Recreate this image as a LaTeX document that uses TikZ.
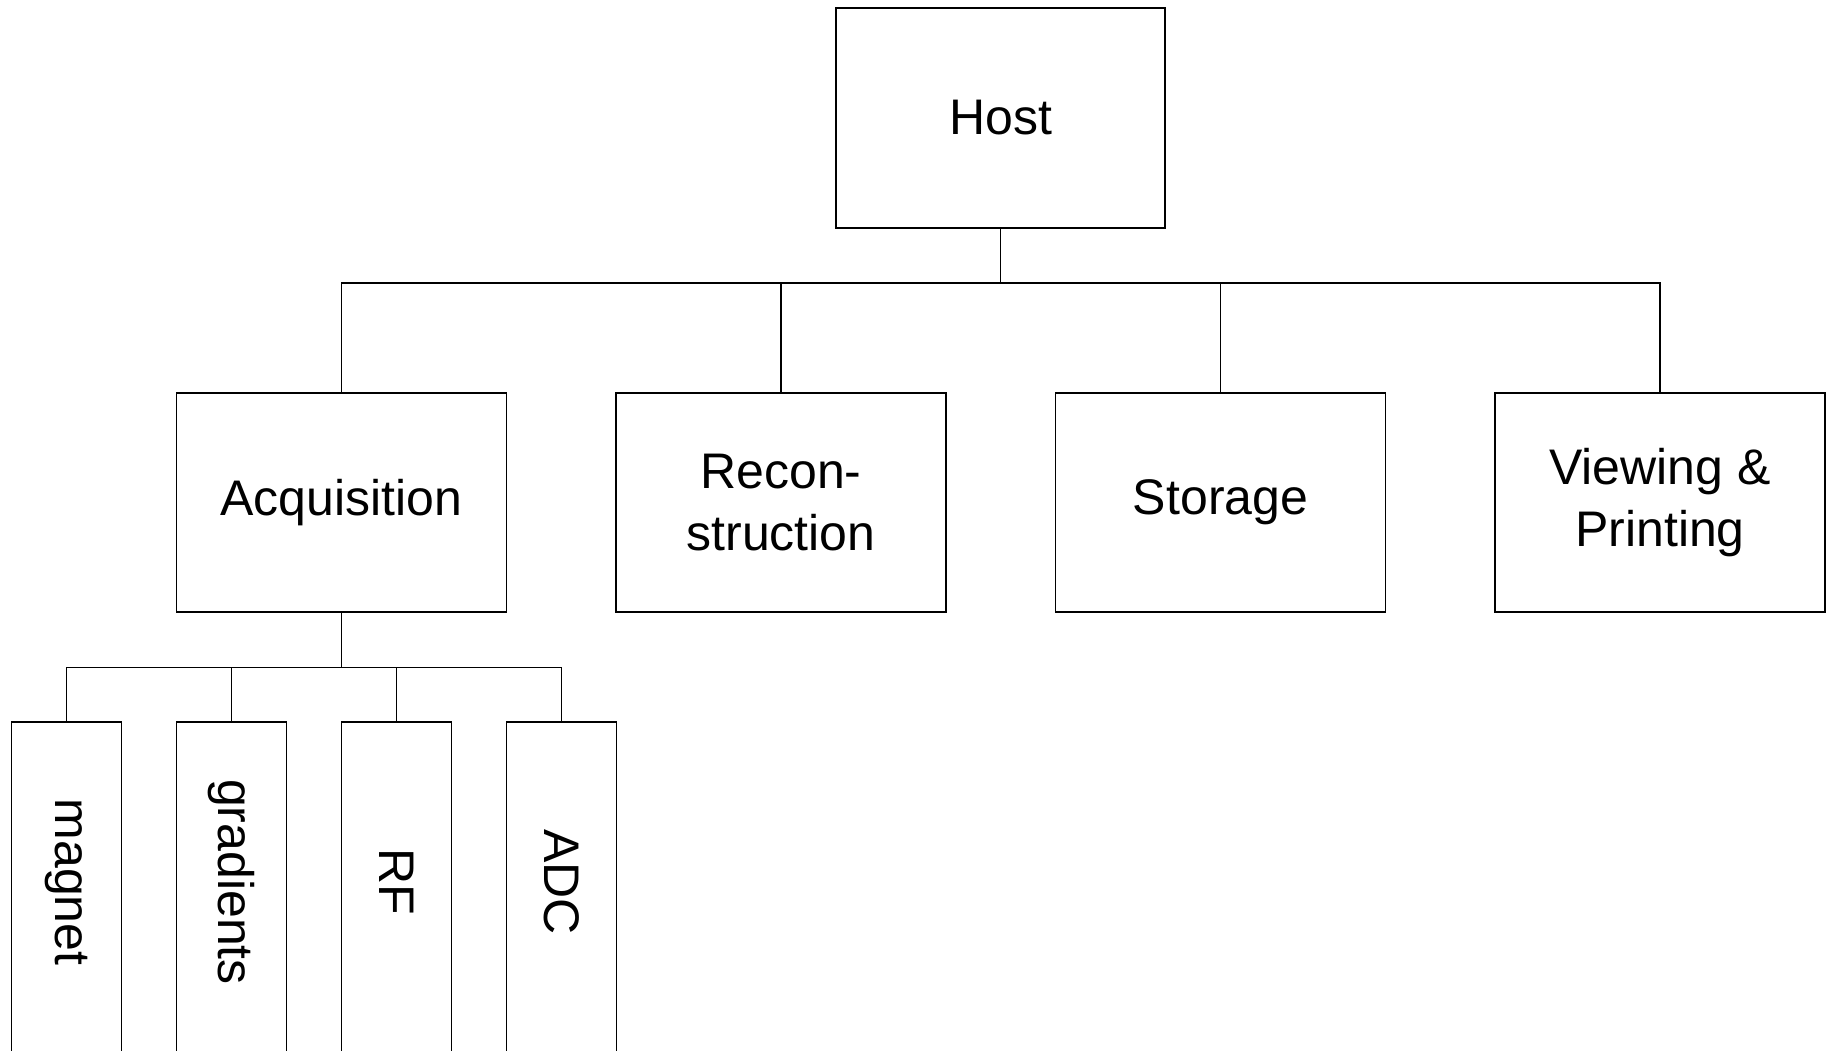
\documentclass[tikz,border=0pt]{standalone}
\usepackage{fontspec}
\setmainfont{Liberation Sans}
\usetikzlibrary{positioning}

\begin{document}
\begin{tikzpicture}[
		x=1pt, y=-1pt,
		line width=1.3pt,
		node distance=109.5pt,
		block/.style={draw, outer sep=0pt, minimum width=330pt, minimum height=219pt, align=center, font=\fontsize{50pt}{62pt}\selectfont},
		unit/.style={draw, outer sep=0pt, minimum width=110pt, minimum height=360pt, anchor=north},
		unitlabel/.style={rotate=-90, font=\fontsize{50pt}{62pt}\selectfont},
	]
		\useasboundingbox (0,0) rectangle (1827,1050);

		\node[block, minimum width=329pt, minimum height=220pt] (host) at (1000.5,118) {Host};
		\node[block] (acq) at (341.5,502.5) {Acquisition};
		\node[block, right=of acq] (recon) {Recon-\\struction};
		\node[block, right=of recon] (store) {Storage};
		\node[block, right=of store] (view) {Viewing \&\\Printing};

		% acquisition parts, running off the bottom edge
		\node[unit] (mag) at (66.5,722) {};
		\node[unit, right=55pt of mag.north east, anchor=north west] (grad) {};
		\node[unit, right=55pt of grad.north east, anchor=north west] (rf) {};
		\node[unit, right=55pt of rf.north east, anchor=north west] (adc) {};
		\node[unitlabel] (magtext) at ([yshift=-160pt]mag.north) {magnet};
		\node[unitlabel] (gradtext) at ([yshift=-160pt]grad.north) {gradients};
		\node[unitlabel] (rftext) at ([yshift=-160pt]rf.north) {RF};
		\node[unitlabel] (adctext) at ([yshift=-160pt]adc.north) {ADC};

		\coordinate (hbus) at (1000.5,283);
		\coordinate (abus) at (341.5,667.5);

		\draw (host.south) -- (hbus);
		\draw (acq.north) |- (hbus) -| (view.north);
		\draw (recon.north) -- (recon.north |- hbus);
		\draw (store.north) -- (store.north |- hbus);

		\draw (acq.south) -- (abus);
		\draw (mag.north) |- (abus) -| (adc.north);
		\draw (grad.north) -- (grad.north |- abus);
		\draw (rf.north) -- (rf.north |- abus);
	\end{tikzpicture}
\end{document}
